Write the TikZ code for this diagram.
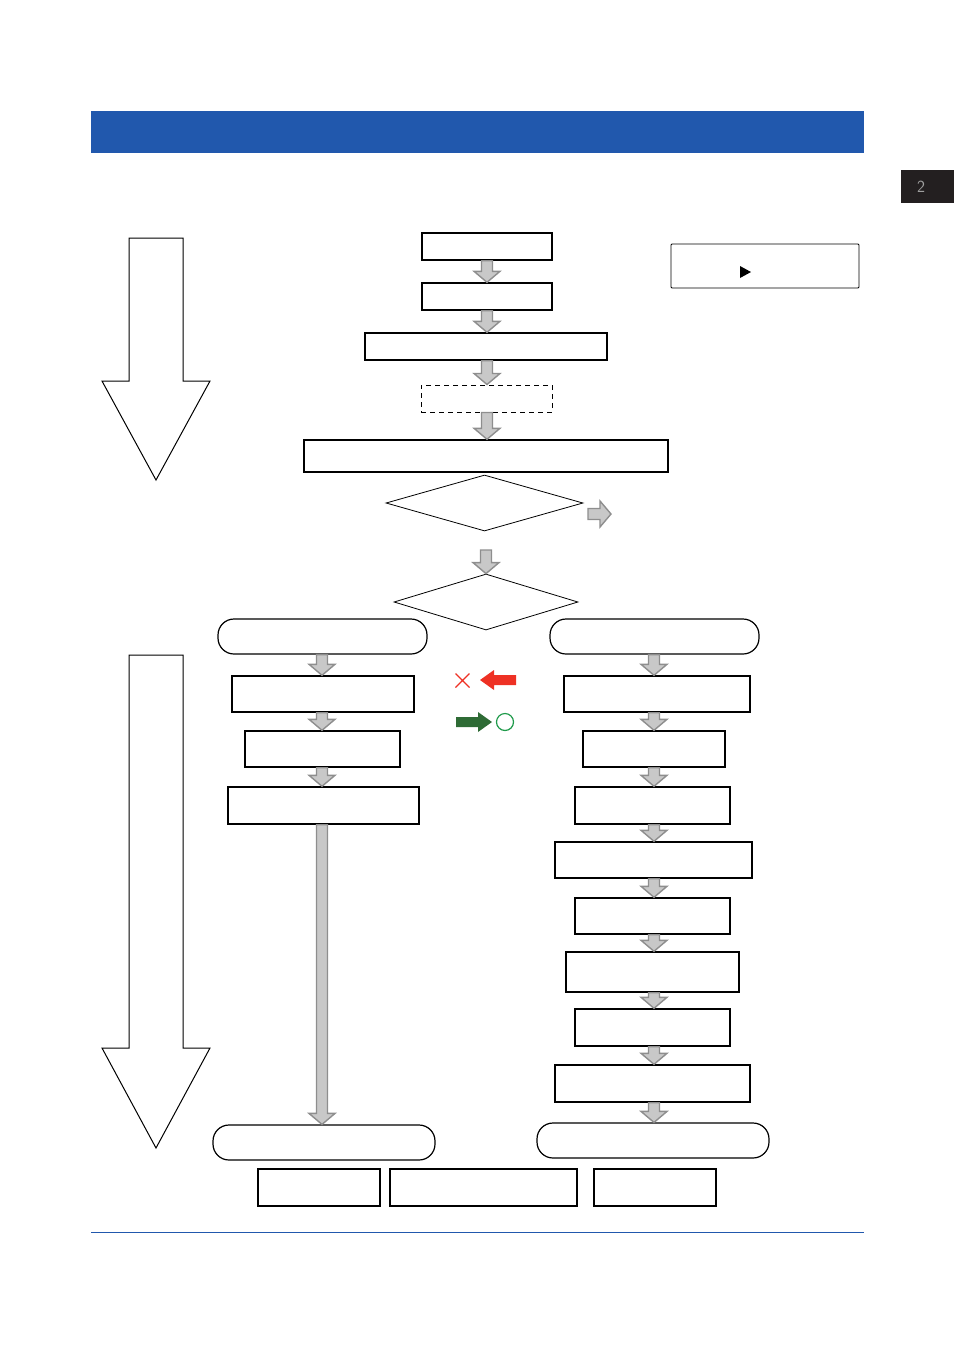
\documentclass[tikz,border=0pt]{standalone}
\usepackage{fontspec}
\setmainfont{Liberation Sans}
\usetikzlibrary{shapes.geometric,calc}
\definecolor{hdrblue}{HTML}{2158AD}
\definecolor{tabdark}{HTML}{231F20}
\definecolor{arrfill}{HTML}{C8C8C8}
\definecolor{arrline}{HTML}{8E8E8E}
\definecolor{redarr}{HTML}{EE3124}
\definecolor{greenarr}{HTML}{2E6B35}
\definecolor{greencirc}{HTML}{1E9A4A}
\tikzset{
  box/.style={draw=black, line width=1.4pt, inner sep=0pt, rectangle},
  thinbox/.style={draw=black, line width=0.9pt, inner sep=0pt, rectangle},
  dbox/.style={draw=black, line width=1pt, inner sep=0pt, rectangle, dash pattern=on 5pt off 4pt},
  rbox/.style={draw=black, line width=1.2pt, inner sep=0pt, rectangle, rounded corners=16pt},
  dia/.style={draw=black, line width=0.8pt, inner sep=0pt, diamond},
  garrow/.style={fill=arrfill, draw=arrline, line width=1.4pt, line join=miter},
  bigarrow/.style={draw=black, line width=1pt, fill=white, line join=miter}
}
% vertical gray block arrow from #1 (top) down to #2 (tip)
\newcommand{\garr}[2]{\path[garrow] let \p1=#1, \p2=#2 in
  (\x1-5.5pt,\y1) -- (\x1+5.5pt,\y1) -- (\x1+5.5pt,\y2+11pt) -- (\x1+13pt,\y2+11pt) --
  (\x1,\y2) -- (\x1-13pt,\y2+11pt) -- (\x1-5.5pt,\y2+11pt) -- cycle;}
\begin{document}
\begin{tikzpicture}[x=1pt,y=-1pt]
\useasboundingbox (0,0) rectangle (954,1350);
% header bar and tab
\fill[hdrblue] (91,111) rectangle (864,153);
\node[fill=tabdark, minimum width=53pt, minimum height=33pt, inner sep=0pt, anchor=north west] (tab) at (901,170) {};
\node[text=gray!75, font=\sffamily\fontsize{17}{17}\selectfont] (tabnum) at (921,187) {2};
\draw[hdrblue, line width=0.8pt] (91,1232) -- (864,1232);

% big hollow arrows
\draw[bigarrow] (129,238) -- (183,238) -- (183,381) -- (210,381) -- (156,480) -- (102,381) -- (129,381) -- cycle;
\draw[bigarrow] (129,655) -- (183,655) -- (183,1048) -- (210,1048) -- (156,1148) -- (102,1048) -- (129,1048) -- cycle;

% legend box
\node[thinbox, rounded corners=1pt, minimum width=188pt, minimum height=44pt] (legend) at (765,266) {};
\fill[black] (740,266) -- (751,272) -- (740,278) -- cycle;

% top column
\node[box, minimum width=130pt, minimum height=27pt] (b1) at (487,246.5) {};
\node[box, minimum width=130pt, minimum height=27pt] (b2) at (487,296.5) {};
\node[box, minimum width=242pt, minimum height=27pt] (b3) at (486,346.5) {};
\node[dbox, minimum width=131pt, minimum height=27pt] (b4) at (486.5,398.5) {};
\node[box, minimum width=364pt, minimum height=32pt] (b5) at (486,456) {};
\node[dia, minimum width=197pt, minimum height=56pt] (d1) at (484.5,503) {};
\node[dia, minimum width=184pt, minimum height=56pt] (d2) at (486,602) {};

\coordinate (tc) at (487,0);
\garr{(tc |- b1.south)}{(tc |- b2.north)}
\garr{(tc |- b2.south)}{(tc |- b3.north)}
\garr{(tc |- b3.south)}{(tc |- b4.north)}
\garr{(tc |- b4.south)}{(tc |- b5.north)}
\coordinate (d2in) at (486,550);
\garr{(d2in)}{(d2.north)}

% right-pointing gray arrow beside d1
\coordinate (ra1) at (588,514);
\coordinate (ra2) at (611,514);
\path[garrow] let \p1=(ra1), \p2=(ra2) in
  (\x1,\y1+5.5pt) -- (\x2-11pt,\y1+5.5pt) -- (\x2-11pt,\y1+13pt) -- (\x2,\y1) --
  (\x2-11pt,\y1-13pt) -- (\x2-11pt,\y1-5.5pt) -- (\x1,\y1-5.5pt) -- cycle;

% branch heads
\node[rbox, minimum width=209pt, minimum height=35pt] (lr) at (322.5,636.5) {};
\node[rbox, minimum width=209pt, minimum height=35pt] (rr) at (654.5,636.5) {};

% left column
\node[box, minimum width=182pt, minimum height=36pt] (l1) at (323,694) {};
\node[box, minimum width=155pt, minimum height=36pt] (l2) at (322.5,749) {};
\node[box, minimum width=191pt, minimum height=37pt] (l3) at (323.5,805.5) {};
\node[rbox, minimum width=222pt, minimum height=35pt] (lb) at (324,1142.5) {};
\coordinate (lc) at (322,0);
\garr{(lc |- lr.south)}{(lc |- l1.north)}
\garr{(lc |- l1.south)}{(lc |- l2.north)}
\garr{(lc |- l2.south)}{(lc |- l3.north)}
\garr{(lc |- l3.south)}{(lc |- lb.north)}

% right column
\node[box, minimum width=186pt, minimum height=36pt] (r1) at (657,694) {};
\node[box, minimum width=142pt, minimum height=36pt] (r2) at (654,749) {};
\node[box, minimum width=155pt, minimum height=37pt] (r3) at (652.5,805.5) {};
\node[box, minimum width=197pt, minimum height=36pt] (r4) at (653.5,860) {};
\node[box, minimum width=155pt, minimum height=36pt] (r5) at (652.5,916) {};
\node[box, minimum width=173pt, minimum height=40pt] (r6) at (652.5,972) {};
\node[box, minimum width=155pt, minimum height=37pt] (r7) at (652.5,1027.5) {};
\node[box, minimum width=195pt, minimum height=37pt] (r8) at (652.5,1083.5) {};
\node[rbox, minimum width=232pt, minimum height=35pt] (rb) at (653,1140.5) {};
\coordinate (rc) at (654,0);
\garr{(rc |- rr.south)}{(rc |- r1.north)}
\garr{(rc |- r1.south)}{(rc |- r2.north)}
\garr{(rc |- r2.south)}{(rc |- r3.north)}
\garr{(rc |- r3.south)}{(rc |- r4.north)}
\garr{(rc |- r4.south)}{(rc |- r5.north)}
\garr{(rc |- r5.south)}{(rc |- r6.north)}
\garr{(rc |- r6.south)}{(rc |- r7.north)}
\garr{(rc |- r7.south)}{(rc |- r8.north)}
\garr{(rc |- r8.south)}{(rc |- rb.north)}

% bottom row
\node[box, minimum width=122pt, minimum height=37pt] (c1) at (319,1187.5) {};
\node[box, minimum width=187pt, minimum height=37pt] (c2) at (483.5,1187.5) {};
\node[box, minimum width=122pt, minimum height=37pt] (c3) at (655,1187.5) {};

% legend marks: red cross and arrow, green arrow and circle
\draw[redarr, line width=1.2pt] (455.5,673.5) -- (469.5,687.5) (469.5,673.5) -- (455.5,687.5);
\fill[redarr] (480,680) -- (494,670) -- (494,675) -- (516,675) -- (516,685) -- (494,685) -- (494,690) -- cycle;
\fill[greenarr] (456,717) -- (478,717) -- (478,712) -- (492,722) -- (478,732) -- (478,727) -- (456,727) -- cycle;
\draw[greencirc, line width=1.2pt] (505,722) circle[radius=8.5pt];
\end{tikzpicture}
\end{document}
